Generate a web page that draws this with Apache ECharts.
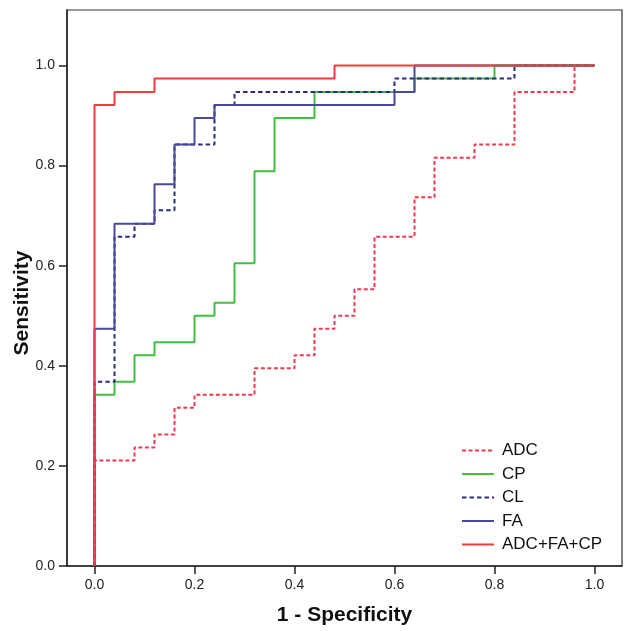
<!DOCTYPE html>
<html>
<head>
<meta charset="utf-8">
<script src="https://cdn.jsdelivr.net/npm/echarts@6/dist/echarts.min.js"></script>
<style>
html,body{margin:0;padding:0;background:#fff;}
#chart{width:634px;height:631px;}
</style>
</head>
<body>
<div id="chart"></div>
<script>
// ROC curve vertices: [1 - Specificity, Sensitivity]
const seriesNames = ['ADC', 'CP', 'CL', 'FA', 'ADC+FA+CP'];
const adcPoints = [[0,0],[0,0.211],[0.08,0.237],[0.12,0.263],[0.16,0.316],[0.20,0.342],[0.32,0.395],[0.40,0.421],[0.44,0.474],[0.48,0.500],[0.52,0.553],[0.56,0.658],[0.64,0.737],[0.68,0.816],[0.76,0.842],[0.84,0.947],[0.96,1.0],[1,1]];
const cpPoints = [[0,0],[0,0.342],[0.04,0.368],[0.08,0.421],[0.12,0.447],[0.20,0.500],[0.24,0.526],[0.28,0.605],[0.32,0.789],[0.36,0.895],[0.44,0.947],[0.64,0.974],[0.80,1.0],[1,1]];
const clPoints = [[0,0],[0,0.368],[0.04,0.658],[0.08,0.684],[0.12,0.711],[0.16,0.842],[0.24,0.921],[0.28,0.947],[0.60,0.974],[0.84,1.0],[1,1]];
const faPoints = [[0,0],[0,0.474],[0.04,0.684],[0.12,0.763],[0.16,0.842],[0.20,0.895],[0.24,0.921],[0.60,0.947],[0.64,1.0],[1,1]];
const combinedPoints = [[0,0],[0,0.921],[0.04,0.947],[0.12,0.974],[0.48,1.0],[1,1]];
const xTicks = [0, 0.2, 0.4, 0.6, 0.8, 1.0];
const yTicks = [0, 0.2, 0.4, 0.6, 0.8, 1.0];

const allData = [adcPoints, cpPoints, clPoints, faPoints, combinedPoints];
const colors = ['#ef3b52', '#3fc03f', '#2c2c84', '#4a4a9c', '#f23c3c'];
const dashes = [[4, 2.5], 'solid', [4.5, 3], 'solid', 'solid'];

const chart = echarts.init(document.getElementById('chart'), null, {renderer: 'canvas'});
const fontFam = '"Liberation Sans", Arial, sans-serif';

chart.setOption({
  backgroundColor: '#ffffff',
  animation: false,
  textStyle: {fontFamily: fontFam},
  grid: {left: 67, right: 12, top: 10, bottom: 65, outerBoundsMode: 'none', containLabel: false, show: true, borderColor: '#333', borderWidth: 1.2, backgroundColor: 'transparent'},
  legend: {
    orient: 'vertical',
    left: 461,
    top: 442,
    padding: 0,
    itemWidth: 32,
    itemHeight: 14,
    itemGap: 6.5,
    itemStyle: {opacity: 0},
    textStyle: {fontSize: 17, color: '#111', fontFamily: fontFam, padding: [0, 0, 0, 3]},
    data: seriesNames
  },
  xAxis: {
    type: 'value',
    min: -0.055,
    max: 1.055,
    name: '1 - Specificity',
    nameLocation: 'middle',
    nameGap: 39,
    nameMoveOverlap: false,
    nameTextStyle: {fontSize: 21, fontWeight: 'bold', color: '#111', fontFamily: fontFam},
    axisLine: {show: true, onZero: false, lineStyle: {color: '#222', width: 1.5}},
    axisTick: {show: true, length: 8, customValues: xTicks, lineStyle: {color: '#222', width: 1.5}},
    axisLabel: {show: true, customValues: xTicks, fontSize: 14, color: '#222', margin: 12, formatter: v => v.toFixed(1)},
    splitLine: {show: false}
  },
  yAxis: {
    type: 'value',
    min: 0,
    max: 1.111,
    name: 'Sensitivity',
    nameLocation: 'middle',
    nameGap: 34,
    nameMoveOverlap: false,
    nameTextStyle: {fontSize: 21, fontWeight: 'bold', color: '#111', fontFamily: fontFam, padding: [0, 30, 0, 0]},
    axisLine: {show: true, onZero: false, lineStyle: {color: '#222', width: 1.5}},
    axisTick: {show: true, length: 8, customValues: yTicks, lineStyle: {color: '#222', width: 1.5}},
    axisLabel: {show: true, customValues: yTicks, fontSize: 14, color: '#222', margin: 12, formatter: v => v.toFixed(1)},
    splitLine: {show: false}
  },
  series: seriesNames.map((name, i) => ({
    name: name,
    type: 'line',
    step: 'end',
    data: allData[i],
    symbol: 'none',
    showSymbol: false,
    color: colors[i],
    lineStyle: {color: colors[i], width: 2, type: dashes[i]},
    z: 2 + i
  }))
});
</script>
</body>
</html>
